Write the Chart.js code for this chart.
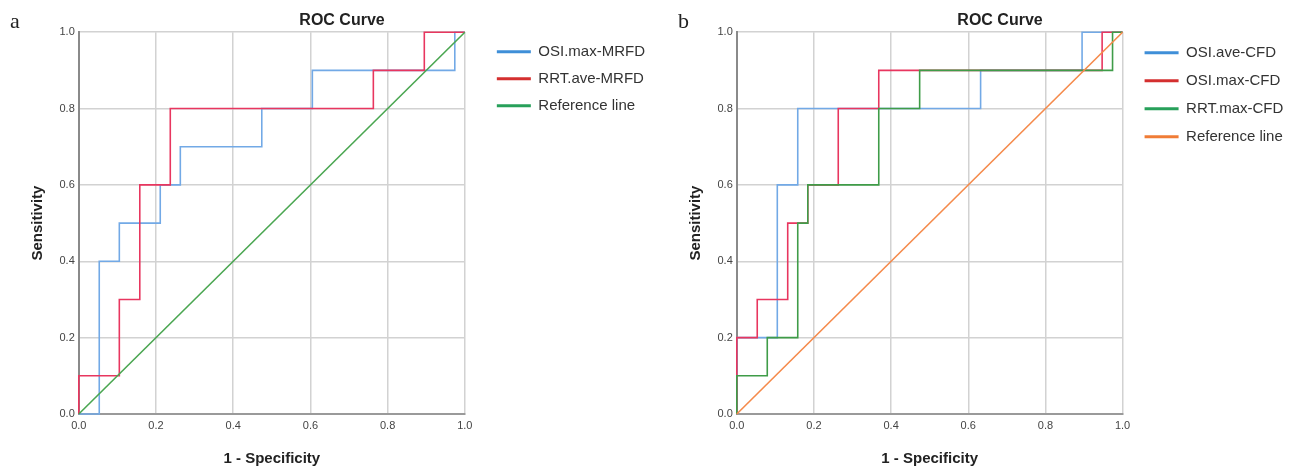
<!DOCTYPE html>
<html><head><meta charset="utf-8">
<script src="https://cdn.jsdelivr.net/npm/chart.js@4/dist/chart.umd.min.js"></script>
<style>
html,body{margin:0;padding:0;background:#fff;overflow:hidden;width:1293px;height:466px;position:relative}
.panel{position:absolute;top:0;width:684px;height:466px}
.tag{position:absolute;font-family:"Liberation Serif","Times New Roman",serif;font-size:22px;line-height:1;color:#222}
</style></head><body>
<div class="panel" style="left:0"><canvas id="ca" width="684" height="466"></canvas></div>
<div class="panel" style="left:658px"><canvas id="cb" width="684" height="466"></canvas></div>
<div class="tag" style="left:10px;top:10px">a</div>
<div class="tag" style="left:678px;top:10px">b</div>
<script>
// ---------- shared text / ticks ----------
const chartTitle = 'ROC Curve';
const xTitle = '1 - Specificity';
const yTitle = 'Sensitivity';
const tickValues = [0, 0.2, 0.4, 0.6, 0.8, 1.0];
const tickLabels = ['0.0', '0.2', '0.4', '0.6', '0.8', '1.0'];

// ---------- panel a ----------
const aNames = ['OSI.max-MRFD', 'RRT.ave-MRFD', 'Reference line'];
const aOsiMaxFpr = [0, 0.053, 0.053, 0.105, 0.105, 0.211, 0.211, 0.263, 0.263, 0.474, 0.474, 0.605, 0.605, 0.974, 0.974, 1];
const aOsiMaxTpr = [0, 0, 0.4, 0.4, 0.5, 0.5, 0.6, 0.6, 0.7, 0.7, 0.8, 0.8, 0.9, 0.9, 1.0, 1.0];
const aRrtAveFpr = [0, 0, 0.105, 0.105, 0.158, 0.158, 0.237, 0.237, 0.763, 0.763, 0.895, 0.895, 1];
const aRrtAveTpr = [0, 0.1, 0.1, 0.3, 0.3, 0.6, 0.6, 0.8, 0.8, 0.9, 0.9, 1.0, 1.0];

// ---------- panel b ----------
const bNames = ['OSI.ave-CFD', 'OSI.max-CFD', 'RRT.max-CFD', 'Reference line'];
const bOsiAveFpr = [0, 0, 0.105, 0.105, 0.158, 0.158, 0.632, 0.632, 0.895, 0.895, 1];
const bOsiAveTpr = [0, 0.2, 0.2, 0.6, 0.6, 0.8, 0.8, 0.9, 0.9, 1.0, 1.0];
const bOsiMaxFpr = [0, 0, 0.053, 0.053, 0.132, 0.132, 0.184, 0.184, 0.263, 0.263, 0.368, 0.368, 0.947, 0.947, 1];
const bOsiMaxTpr = [0, 0.2, 0.2, 0.3, 0.3, 0.5, 0.5, 0.6, 0.6, 0.8, 0.8, 0.9, 0.9, 1.0, 1.0];
const bRrtMaxFpr = [0, 0, 0.079, 0.079, 0.158, 0.158, 0.184, 0.184, 0.368, 0.368, 0.474, 0.474, 0.974, 0.974, 1];
const bRrtMaxTpr = [0, 0.1, 0.1, 0.2, 0.2, 0.5, 0.5, 0.6, 0.6, 0.8, 0.8, 0.9, 0.9, 1.0, 1.0];

// reference diagonal
const refFpr = [0, 1];
const refTpr = [0, 1];

const FONT = 'Arial, "Liberation Sans", sans-serif';
const pts = (xs, ys) => xs.map((x, i) => ({x: x, y: ys[i]}));

function spacer(width, weight) {
  return {
    type: 'linear', position: 'right', display: true, weight: weight,
    grid: {display: false}, ticks: {display: false}, border: {display: false},
    afterFit: (s) => { s.width = width; }
  };
}

function makeChart(id, names, series, lineColors, legendColors, orders, gapWidth, legendPad, outerPad) {
  const datasets = names.map((n, i) => ({
    label: n,
    data: pts(series[i][0], series[i][1]),
    borderColor: lineColors[i],
    backgroundColor: lineColors[i],
    borderWidth: 1.6,
    pointRadius: 0,
    fill: false,
    tension: 0,
    order: orders[i],
    clip: 4
  }));
  const tickCfg = (pad) => ({
    color: '#444',
    padding: pad,
    autoSkip: false,
    maxRotation: 0,
    font: {family: FONT, size: 11},
    callback: (v, i) => tickLabels[i]
  });
  const setTicks = (s) => { s.ticks = tickValues.map(v => ({value: v})); };
  return new Chart(document.getElementById(id), {
    type: 'line',
    data: {datasets},
    options: {
      responsive: false,
      animation: false,
      events: [],
      layout: {padding: 0},
      plugins: {
        title: {
          display: true, text: chartTitle, color: '#222',
          font: {family: FONT, size: 16, weight: 'bold', lineHeight: 1.2},
          padding: {top: 11, bottom: 2}
        },
        legend: {
          display: true, position: 'right', align: 'start', fullSize: false, maxWidth: 400,
          labels: {
            usePointStyle: true, pointStyleWidth: 34, padding: legendPad, color: '#333',
            font: {family: FONT, size: 15},
            generateLabels: (chart) => chart.data.datasets.map((ds, i) => ({
              text: ds.label, fillStyle: legendColors[i], strokeStyle: legendColors[i],
              lineWidth: 3, pointStyle: 'line', hidden: false, datasetIndex: i, fontColor: '#333'
            }))
          }
        },
        tooltip: {enabled: false}
      },
      scales: {
        x: {
          type: 'linear', min: 0, max: 1, position: 'bottom',
          afterBuildTicks: setTicks,
          ticks: tickCfg(5),
          grid: {color: '#d2d2d2', lineWidth: 1.5, drawTicks: false},
          border: {color: '#9a9a9a', width: 2},
          title: {display: true, text: xTitle, color: '#222',
            font: {family: FONT, size: 15, weight: 'bold', lineHeight: 1},
            padding: {top: 13.8, bottom: 0}}
        },
        y: {
          type: 'linear', min: 0, max: 1, position: 'left',
          afterBuildTicks: setTicks,
          ticks: tickCfg(4),
          grid: {color: '#d2d2d2', lineWidth: 1.5, drawTicks: false},
          border: {color: '#8a8a8a', width: 2},
          title: {display: true, text: yTitle, color: '#222',
            font: {family: FONT, size: 15, weight: 'bold', lineHeight: 1.2},
            padding: {top: 28.5, bottom: 9}}
        },
        gap: spacer(gapWidth, 0),
        outer: spacer(outerPad, 2000)
      }
    }
  });
}

makeChart('ca', aNames,
  [[aOsiMaxFpr, aOsiMaxTpr], [aRrtAveFpr, aRrtAveTpr], [refFpr, refTpr]],
  ['#72a9e6', '#e8365f', '#4aa651'],
  ['#3f8fd8', '#d42f2f', '#27a05a'],
  [2, 1, 0], 20, 12, 29);

makeChart('cb', bNames,
  [[bOsiAveFpr, bOsiAveTpr], [bOsiMaxFpr, bOsiMaxTpr], [bRrtMaxFpr, bRrtMaxTpr], [refFpr, refTpr]],
  ['#72a9e6', '#e8365f', '#3f9c48', '#f58a4b'],
  ['#3f8fd8', '#d42f2f', '#27a05a', '#f07c36'],
  [3, 2, 1, 0], 9, 13, 48.7);
</script>
</body></html>
